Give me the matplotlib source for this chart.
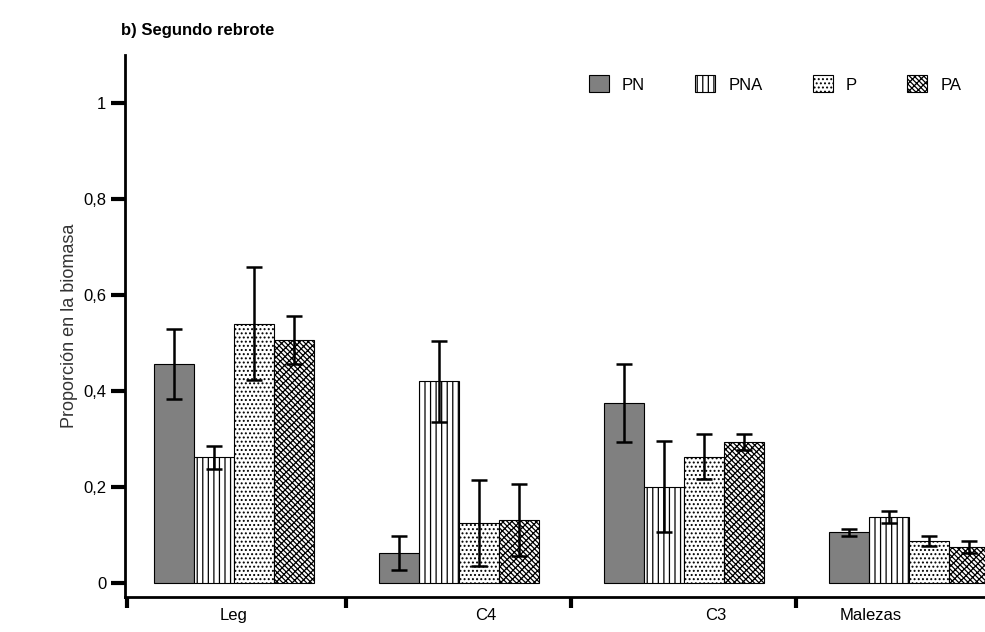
import matplotlib.pyplot as plt
import numpy as np

plt.rcParams['font.family'] = ['Liberation Sans', 'DejaVu Sans']
plt.rcParams['hatch.linewidth'] = 0.9

groups = ['Leg', 'C4', 'C3', 'Malezas']
series = ['PN', 'PNA', 'P', 'PA']
values = {
    'PN':  [0.457, 0.062, 0.375, 0.105],
    'PNA': [0.262, 0.420, 0.200, 0.137],
    'P':   [0.540, 0.125, 0.263, 0.087],
    'PA':  [0.507, 0.130, 0.293, 0.075],
}
errors = {
    'PN':  [0.073, 0.035, 0.082, 0.007],
    'PNA': [0.024, 0.085, 0.095, 0.012],
    'P':   [0.118, 0.090, 0.047, 0.010],
    'PA':  [0.050, 0.075, 0.017, 0.012],
}
label_pos = [0, 1.12, 2.14, 2.83]
styles = {
    'PN':  dict(color='#808080', hatch=None),
    'PNA': dict(color='white', hatch='|||'),
    'P':   dict(color='white', hatch='....'),
    'PA':  dict(color='white', hatch='\\\\\\\\\\\\\\////'),
}

fig = plt.figure(figsize=(9.85, 6.32), dpi=100)
ax = fig.add_axes([0.127, 0.055, 0.873, 0.858])
x = np.arange(len(groups))
w = 0.178
for i, s in enumerate(series):
    off = (i - 1.5) * w
    ax.bar(x + off, values[s], w, yerr=errors[s], facecolor=styles[s]['color'],
           hatch=styles[s]['hatch'], edgecolor='black', linewidth=0.8,
           error_kw=dict(ecolor='black', elinewidth=1.8, capsize=6, capthick=1.8),
           label=s)

ax.set_xlim(-0.484, 3.338)
ax.set_ylim(-0.03, 1.1)
ax.set_yticks([0, 0.2, 0.4, 0.6, 0.8, 1.0])
ax.set_yticklabels(['0', '0,2', '0,4', '0,6', '0,8', '1'], fontsize=12)
ax.set_xticks([-0.484 + 0.01, 0.5, 1.5, 2.5])
ax.set_xticklabels([])
ax.set_xticks(label_pos, minor=True)
ax.set_xticklabels(groups, minor=True, fontsize=12)
ax.tick_params(axis='x', which='minor', length=0, pad=8)
ax.tick_params(axis='x', which='major', length=8, width=3, direction='out')
ax.tick_params(axis='y', length=10, width=3, direction='out')
for sp in ['top', 'right']:
    ax.spines[sp].set_visible(False)
for sp in ['left', 'bottom']:
    ax.spines[sp].set_linewidth(2)
ax.set_ylabel('Proporción en la biomasa', fontsize=13, color='#333333')
ax.legend(ncol=4, frameon=False, loc='upper right', bbox_to_anchor=(0.99, 0.99),
          fontsize=12, handlelength=1.2, handleheight=1.2, columnspacing=3.0,
          handletextpad=0.8)
fig.text(0.123, 0.945, 'b) Segundo rebrote', fontsize=12, fontweight='bold')
fig.savefig('out.png', dpi=100)
